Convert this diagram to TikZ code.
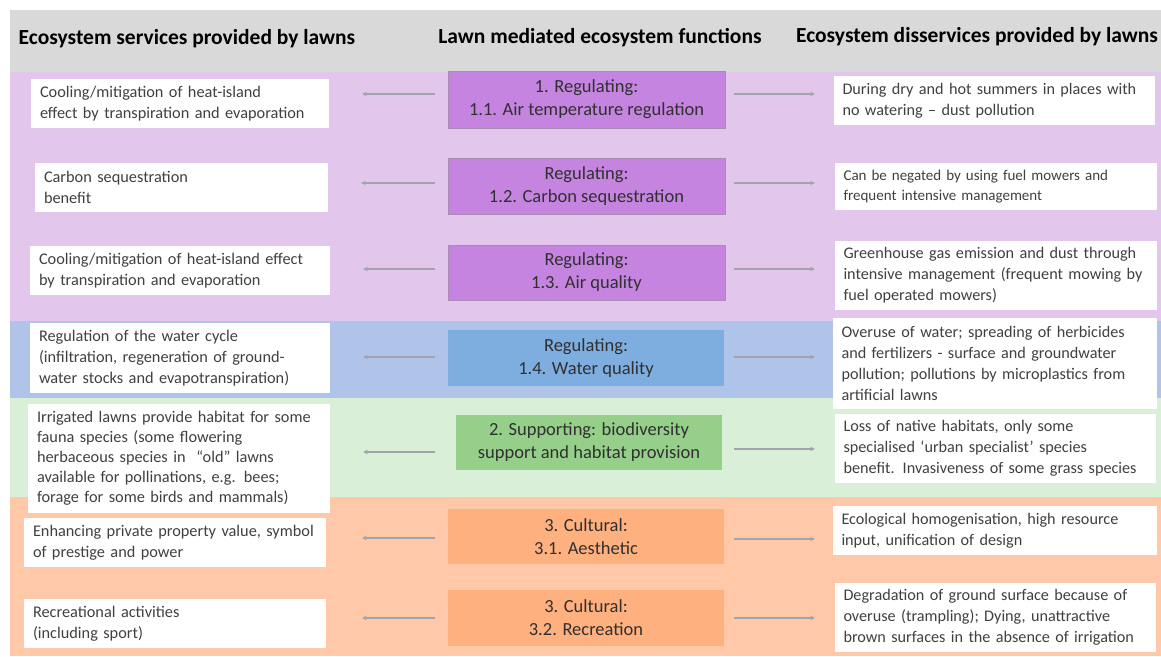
\documentclass[tikz,border=0pt]{standalone}
\usepackage{fontspec}
\setmainfont{Carlito}
\usetikzlibrary{arrows.meta}

\definecolor{hdrgray}{HTML}{D9D9D9}
\definecolor{bandpurple}{HTML}{E3C6EB}
\definecolor{bandblue}{HTML}{AFC4E8}
\definecolor{bandgreen}{HTML}{DAEFD7}
\definecolor{bandorange}{HTML}{FFC8A8}
\definecolor{fnpurple}{HTML}{C584E0}
\definecolor{fnpurpleline}{HTML}{A88CB2}
\definecolor{fnblue}{HTML}{7DAEDF}
\definecolor{fngreen}{HTML}{95CF8A}
\definecolor{fnorange}{HTML}{FFB07F}
\definecolor{boxtext}{HTML}{404040}
\definecolor{fntext}{HTML}{303030}
\definecolor{arrowgray}{HTML}{A3A3AC}

\tikzset{
  colhead/.style={font=\fontsize{21.5}{24}\selectfont\bfseries, text=black, inner sep=0pt},
  svcbox/.style={fill=white, inner xsep=9pt, inner ysep=0pt, align=left,
                 text=boxtext, font=\fontsize{16.3}{21}\selectfont},
  disbox/.style={fill=white, inner xsep=8.5pt, inner ysep=0pt, align=left,
                 text=boxtext, font=\fontsize{16.2}{21}\selectfont},
  fnbox/.style={inner sep=0pt, align=center, text=fntext,
                font=\fontsize{18.5}{23}\selectfont},
  fnreg/.style={fnbox, fill=fnpurple, draw=fnpurpleline, line width=0.8pt},
  fnwater/.style={fnbox, fill=fnblue},
  fnsupp/.style={fnbox, fill=fngreen},
  fncult/.style={fnbox, fill=fnorange},
  flow/.style={draw=arrowgray, line width=1.4pt,
               -{Stealth[length=4.5pt,width=4.5pt]}},
}

\begin{document}
\begin{tikzpicture}[x=1pt,y=-1pt]
\useasboundingbox (0,0) rectangle (1161,656);
\fill[white] (0,0) rectangle (1161,656);

% background bands
\fill[hdrgray]    (10,10)  rectangle (1161,72);
\fill[bandpurple] (10,72)  rectangle (1161,321);
\fill[bandblue]   (10,321) rectangle (1161,398);
\fill[bandgreen]  (10,398) rectangle (1161,497);
\fill[bandorange] (10,497) rectangle (1161,656);

% column headings
\node[colhead] (h1) at (187,39) {Ecosystem services provided by lawns};
\node[colhead] (h2) at (600,38) {Lawn mediated ecosystem functions};
\node[colhead] (h3) at (977,37) {Ecosystem disservices provided by lawns};

% ecosystem functions (middle column)
\node[fnreg, minimum width=277pt, minimum height=57pt] (C1) at (586.5,99.5)
  {1. Regulating:\\1.1. Air temperature regulation};
\node[fnreg, minimum width=277pt, minimum height=56pt] (C2) at (586.5,186)
  {Regulating:\\1.2. Carbon sequestration};
\node[fnreg, minimum width=277pt, minimum height=55pt] (C3) at (586.5,272.5)
  {Regulating:\\1.3. Air quality};
\node[fnwater, minimum width=276pt, minimum height=56pt] (C4) at (586,358)
  {Regulating:\\1.4. Water quality};
\node[fnsupp, minimum width=266pt, minimum height=55pt] (C5) at (589,442.5)
  {2. Supporting: biodiversity\\support and habitat provision};
\node[fncult, minimum width=276pt, minimum height=55pt] (C6) at (586,536.5)
  {3. Cultural:\\3.1. Aesthetic};
\node[fncult, minimum width=276pt, minimum height=56pt] (C7) at (586,618)
  {3. Cultural:\\3.2. Recreation};

% ecosystem services (left column)
\node[svcbox, text width=280pt, minimum height=49pt] (L1) at (180,103.5)
  {Cooling/mitigation of heat-island\\effect by transpiration and evaporation};
\node[svcbox, text width=275pt, minimum height=49pt] (L2) at (181.5,187.5)
  {Carbon sequestration\\benefit};
\node[svcbox, text width=282pt, minimum height=49pt] (L3) at (180,270.5)
  {Cooling/mitigation of heat-island effect\\by transpiration and evaporation};
\node[svcbox, text width=282pt, minimum height=70pt] (L4) at (180,358)
  {Regulation of the water cycle\\(infiltration, regeneration of ground-\\water stocks and evapotranspiration)};
\node[svcbox, text width=284pt, minimum height=109pt,
      font=\fontsize{16.3}{20}\selectfont] (L5) at (179,458.5)
  {Irrigated lawns provide habitat for some\\fauna species (some flowering\\herbaceous species in \ “old” lawns\\available for pollinations, e.g. bees;\\forage for some birds and mammals)};
\node[svcbox, text width=284pt, minimum height=49pt] (L6) at (175,542.5)
  {Enhancing private property value, symbol\\of prestige and power};
\node[svcbox, text width=284pt, minimum height=49pt] (L7) at (175,623.5)
  {Recreational activities\\(including sport)};

% ecosystem disservices (right column)
\node[disbox, text width=304pt, minimum height=49pt] (R1) at (994.5,100.5)
  {During dry and hot summers in places with\\no watering -- dust pollution};
\node[disbox, text width=305pt, minimum height=47pt,
      font=\fontsize{15}{20}\selectfont] (R2) at (996,186.5)
  {Can be negated by using fuel mowers and\\frequent intensive management};
\node[disbox, text width=305pt, minimum height=69pt] (R3) at (996,275.5)
  {Greenhouse gas emission and dust through\\intensive management (frequent mowing by\\fuel operated mowers)};
\node[disbox, text width=307pt, minimum height=91pt] (R4) at (995,363.5)
  {Overuse of water; spreading of herbicides\\and fertilizers - surface and groundwater\\pollution; pollutions by microplastics from\\artificial lawns};
\node[disbox, text width=304pt, minimum height=69pt] (R5) at (995.5,448.5)
  {Loss of native habitats, only some\\specialised ‘urban specialist’ species\\benefit. Invasiveness of some grass species};
\node[disbox, text width=307pt, minimum height=49pt] (R6) at (995,530.5)
  {Ecological homogenisation, high resource\\input, unification of design};
\node[disbox, text width=304pt, minimum height=69pt] (R7) at (995.5,617.5)
  {Degradation of ground surface because of\\overuse (trampling); Dying, unattractive\\brown surfaces in the absence of irrigation};

% arrows from each function to its service and disservice
\draw[flow, shorten <=13pt, shorten >=33pt] ([yshift=5.5pt]C1.west) -- ([yshift=5.5pt]C1.west -| L1.east);
\draw[flow, shorten <=9pt,  shorten >=19pt] ([yshift=5.5pt]C1.east) -- ([yshift=5.5pt]C1.east -| R1.west);
\draw[flow, shorten <=13pt, shorten >=33pt] ([yshift=3pt]C2.west) -- ([yshift=3pt]C2.west -| L2.east);
\draw[flow, shorten <=9pt,  shorten >=20pt] ([yshift=3pt]C2.east) -- ([yshift=3pt]C2.east -| R2.west);
\draw[flow, shorten <=13pt, shorten >=33pt] ([yshift=3.5pt]C3.west) -- ([yshift=3.5pt]C3.west -| L3.east);
\draw[flow, shorten <=9pt,  shorten >=20pt] ([yshift=3.5pt]C3.east) -- ([yshift=3.5pt]C3.east -| R3.west);
\draw[flow, shorten <=13pt, shorten >=33pt] ([yshift=1pt]C4.west) -- ([yshift=1pt]C4.west -| L4.east);
\draw[flow, shorten <=10pt, shorten >=18pt] ([yshift=1pt]C4.east) -- ([yshift=1pt]C4.east -| R4.west);
\draw[flow, shorten <=21pt, shorten >=33pt] ([yshift=-9.5pt]C5.west) -- ([yshift=-9.5pt]C5.west -| L5.east);
\draw[flow, shorten <=12pt, shorten >=20pt] ([yshift=-6.5pt]C5.east) -- ([yshift=-6.5pt]C5.east -| R5.west);
\draw[flow, shorten <=13pt, shorten >=36pt] ([yshift=-1.5pt]C6.west) -- ([yshift=-1.5pt]C6.west -| L6.east);
\draw[flow, shorten <=10pt, shorten >=18pt] ([yshift=-2.5pt]C6.east) -- ([yshift=-2.5pt]C6.east -| R6.west);
\draw[flow, shorten <=13pt, shorten >=36pt] (C7.west) -- (C7.west -| L7.east);
\draw[flow, shorten <=10pt, shorten >=20pt] (C7.east) -- (C7.east -| R7.west);
\end{tikzpicture}
\end{document}
